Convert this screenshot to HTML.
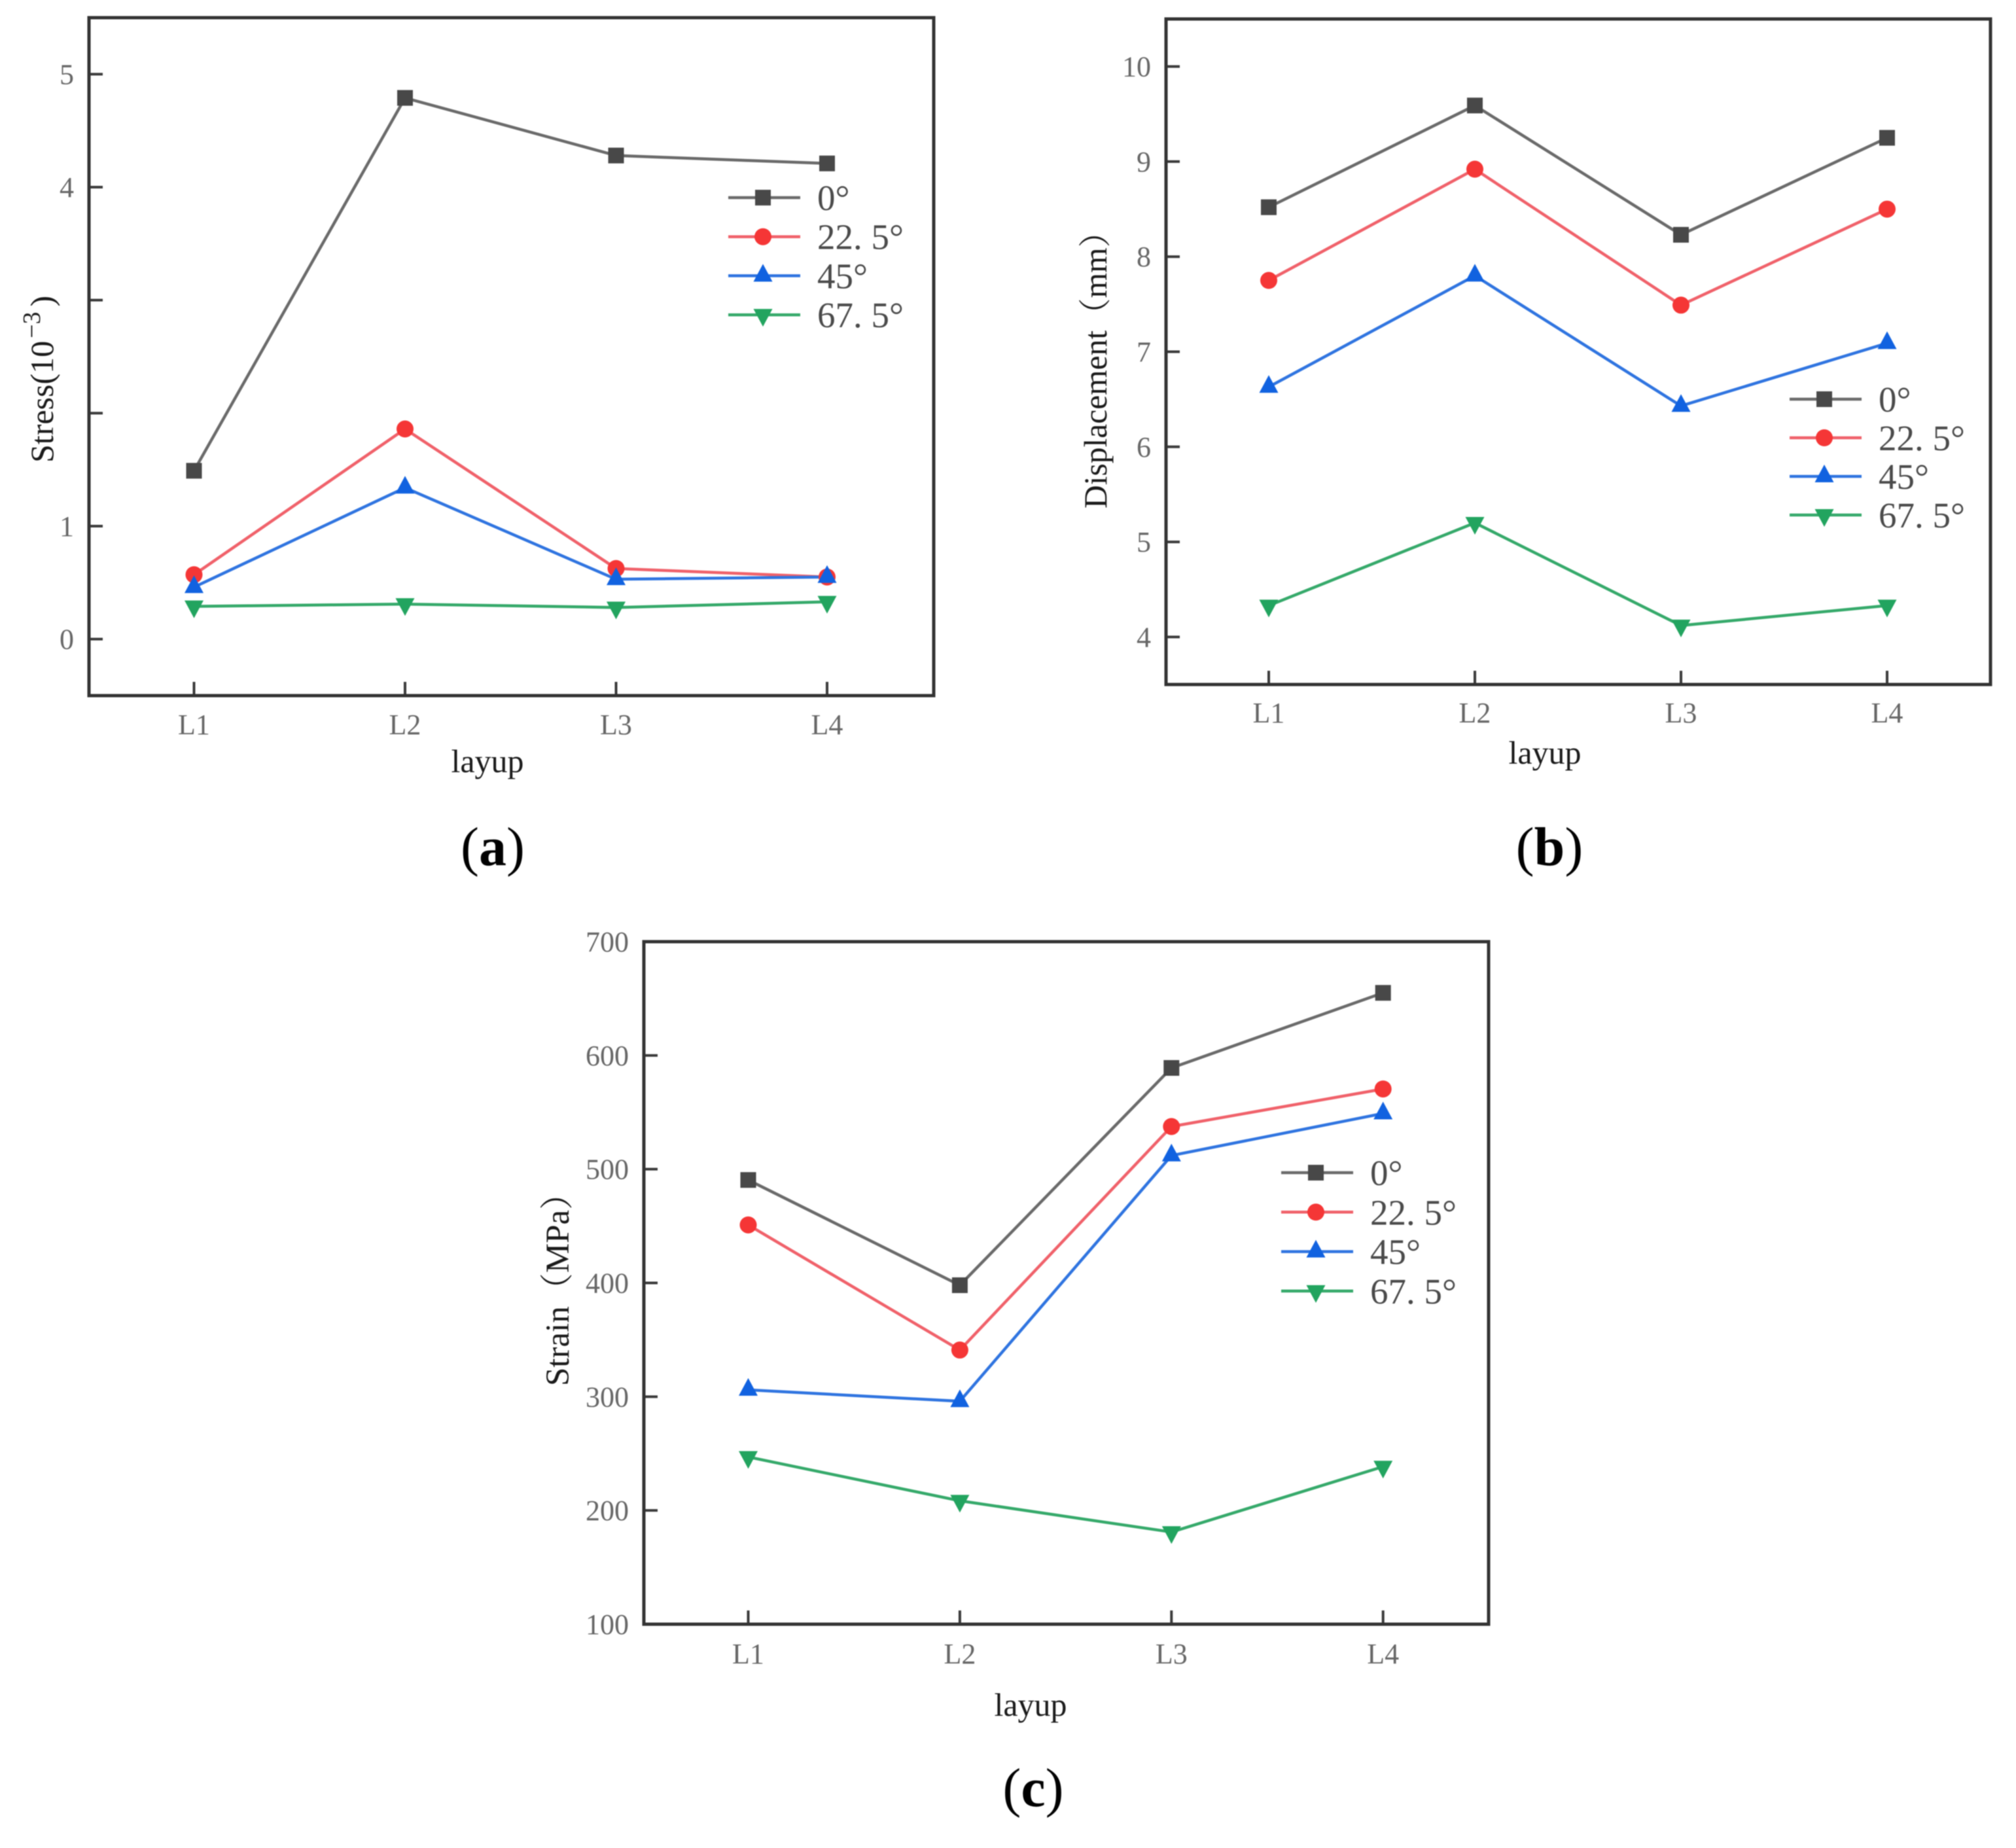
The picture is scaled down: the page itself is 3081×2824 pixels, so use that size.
<!DOCTYPE html>
<html lang="en">
<head>
<meta charset="utf-8">
<title>Stress, displacement and strain by layup</title>
<style>
  html, body { margin: 0; padding: 0; background: #fff; width: 3081px; height: 2824px; overflow: hidden; }
  svg { display: block; filter: blur(0.8px); }
  text { font-family: "Liberation Serif", "Noto Serif CJK SC", serif; }
</style>
</head>
<body>
<svg id="figure" xmlns="http://www.w3.org/2000/svg" width="3081" height="2824" viewBox="0 0 3081 2824">
  <rect width="3081" height="2824" fill="#fff"/>

  <g id="panel-a"></g>
  <g id="panel-b"></g>
  <g id="panel-c"></g>

  <text transform="translate(81,707) rotate(-90)" font-size="50" fill="#1a1a1a">Stress(10<tspan dx="4" dy="-20" font-size="38">−3</tspan><tspan dx="8" dy="20">)</tspan></text>
  <text transform="translate(1691,777) rotate(-90)" font-size="49.5" fill="#1a1a1a">Displacement（mm）</text>
  <text transform="translate(869,2118) rotate(-90)" font-size="51" fill="#1a1a1a">Strain（MPa）</text>

  <text x="745" y="1180" font-size="50" text-anchor="middle" fill="#1a1a1a">layup</text>
  <text x="2361" y="1167" font-size="50" text-anchor="middle" fill="#1a1a1a">layup</text>
  <text x="1575" y="2622" font-size="50" text-anchor="middle" fill="#1a1a1a">layup</text>

  <text x="753" y="1322" font-size="84" text-anchor="middle" fill="#000">(<tspan font-weight="bold">a</tspan>)</text>
  <text x="2368" y="1322" font-size="84" text-anchor="middle" fill="#000">(<tspan font-weight="bold">b</tspan>)</text>
  <text x="1579" y="2760" font-size="84" text-anchor="middle" fill="#000">(<tspan font-weight="bold">c</tspan>)</text>
</svg>

<script>
// ---- shared categories and legend ----
const categories = ['L1', 'L2', 'L3', 'L4'];
const seriesNames = ['0°', '22. 5°', '45°', '67. 5°'];

// ---- panel (a) stress ----
const stressTicks = [0, 1, 2, 3, 4, 5];
const stressTickLabels = ['0', '1', '', '', '4', '5'];
const stress0 = [1.49, 4.79, 4.28, 4.21];
const stress225 = [0.57, 1.86, 0.625, 0.55];
const stress45 = [0.46, 1.34, 0.53, 0.55];
const stress675 = [0.29, 0.31, 0.28, 0.33];

// ---- panel (b) displacement ----
const dispTicks = [4, 5, 6, 7, 8, 9, 10];
const dispTickLabels = ['4', '5', '6', '7', '8', '9', '10'];
const disp0 = [8.52, 9.59, 8.23, 9.25];
const disp225 = [7.75, 8.92, 7.49, 8.5];
const disp45 = [6.63, 7.8, 6.43, 7.09];
const disp675 = [4.33, 5.2, 4.12, 4.33];

// ---- panel (c) strain ----
const strainTicks = [100, 200, 300, 400, 500, 600, 700];
const strainTickLabels = ['100', '200', '300', '400', '500', '600', '700'];
const strain0 = [490.5, 398, 589, 655];
const strain225 = [451, 341, 537.5, 570.5];
const strain45 = [306, 296, 512, 549];
const strain675 = [247, 208.5, 181, 238.5];

// ---- styling ----
const NS = 'http://www.w3.org/2000/svg';
const lineColors = ['#6a6a6a', '#f0616a', '#2f74e0', '#35a96a'];
const markerColors = ['#484848', '#f53636', '#1162e0', '#22a45f'];
const markerKinds = ['square', 'circle', 'up', 'down'];

function make(tag, parent) {
  const el = document.createElementNS(NS, tag);
  parent.appendChild(el);
  return el;
}

function drawSegment(parent, name, x1, y1, x2, y2, color, width) {
  const el = make('line', parent);
  
  
  el.setAttribute('x1', x1);
  el.setAttribute('y1', y1);
  el.setAttribute('x2', x2);
  el.setAttribute('y2', y2);
  el.setAttribute('stroke', color);
  el.setAttribute('stroke-width', width);
  return el;
}

function drawLabel(parent, name, x, y, content, size, color, anchor) {
  const el = make('text', parent);
  
  
  el.setAttribute('x', x);
  el.setAttribute('y', y);
  el.setAttribute('font-size', size);
  el.setAttribute('fill', color);
  el.setAttribute('text-anchor', anchor);
  el.style.whiteSpace = 'pre';
  el.textContent = content;
  return el;
}

function drawMarker(parent, name, kind, cx, cy, color) {
  let el;
  if (kind === 'square') {
    el = make('rect', parent);
    el.setAttribute('x', cx - 12);
    el.setAttribute('y', cy - 12);
    el.setAttribute('width', 24);
    el.setAttribute('height', 24);
  } else if (kind === 'circle') {
    el = make('circle', parent);
    el.setAttribute('cx', cx);
    el.setAttribute('cy', cy);
    el.setAttribute('r', 13);
  } else if (kind === 'up') {
    el = make('polygon', parent);
    el.setAttribute('points', (cx - 14.5) + ',' + (cy + 9) + ' ' + (cx + 14.5) + ',' + (cy + 9) + ' ' + cx + ',' + (cy - 18));
  } else {
    el = make('polygon', parent);
    el.setAttribute('points', (cx - 14.5) + ',' + (cy - 9) + ' ' + (cx + 14.5) + ',' + (cy - 9) + ' ' + cx + ',' + (cy + 18));
  }
  
  
  el.setAttribute('fill', color);
  return el;
}

function drawPanel(cfg) {
  const root = document.getElementById(cfg.id);
  const yScale = function (v) {
    return cfg.bottom + (v - cfg.yMin) / (cfg.yMax - cfg.yMin) * (cfg.top - cfg.bottom);
  };
  const xScale = function (i) {
    return cfg.xFirst + i * cfg.xStep;
  };

  // y ticks + labels
  cfg.yTicks.forEach(function (tick, i) {
    const y = yScale(tick);
    drawSegment(root, 'y-tick-' + tick, cfg.left, y, cfg.left + 21, y, '#3a3a3a', 4);
    if (cfg.yLabels[i] !== '') {
      drawLabel(root, 'y-tick-label-' + tick, cfg.left - 23, y + 15, cfg.yLabels[i], 44, '#666', 'end');
    }
  });

  // x ticks + labels
  categories.forEach(function (cat, i) {
    const x = xScale(i);
    drawSegment(root, 'x-tick-' + cat, x, cfg.bottom, x, cfg.bottom - 21, '#3a3a3a', 4);
    drawLabel(root, 'x-tick-label-' + cat, x, cfg.xLabelY, cat, 44, '#666', 'middle');
  });

  // frame
  const frame = make('rect', root);
  
  
  frame.setAttribute('x', cfg.left);
  frame.setAttribute('y', cfg.top);
  frame.setAttribute('width', cfg.right - cfg.left);
  frame.setAttribute('height', cfg.bottom - cfg.top);
  frame.setAttribute('fill', 'none');
  frame.setAttribute('stroke', '#333');
  frame.setAttribute('stroke-width', 5);

  // series lines
  cfg.series.forEach(function (values, s) {
    const line = make('polyline', root);
    
    
    line.setAttribute('points', values.map(function (v, i) {
      return xScale(i) + ',' + yScale(v);
    }).join(' '));
    line.setAttribute('fill', 'none');
    line.setAttribute('stroke', lineColors[s]);
    line.setAttribute('stroke-width', 4.5);
  });

  // series markers
  cfg.series.forEach(function (values, s) {
    values.forEach(function (v, i) {
      drawMarker(root, 'series-point-' + markerKinds[s] + '-' + categories[i], markerKinds[s], xScale(i), yScale(v), markerColors[s]);
    });
  });

  // legend
  seriesNames.forEach(function (label, s) {
    const y = cfg.legendY + s * cfg.legendStep;
    drawSegment(root, 'legend-line-' + markerKinds[s], cfg.legendX, y, cfg.legendX + 110, y, lineColors[s], 4.5);
    drawMarker(root, 'legend-marker-' + markerKinds[s], markerKinds[s], cfg.legendX + 53, y, markerColors[s]);
    drawLabel(root, 'legend-label-' + markerKinds[s], cfg.legendX + 136, y + 19, label, 55, '#4a4a4a', 'start');
  });
}

drawPanel({
  id: 'panel-a', left: 136, right: 1427, top: 27, bottom: 1063,
  yMin: -0.5, yMax: 5.5, yTicks: stressTicks, yLabels: stressTickLabels,
  xFirst: 296.5, xStep: 322.5, xLabelY: 1122,
  series: [stress0, stress225, stress45, stress675],
  legendX: 1113, legendY: 302, legendStep: 59.7
});

drawPanel({
  id: 'panel-b', left: 1782, right: 3042, top: 29, bottom: 1046,
  yMin: 3.5, yMax: 10.5, yTicks: dispTicks, yLabels: dispTickLabels,
  xFirst: 1939, xStep: 315, xLabelY: 1104,
  series: [disp0, disp225, disp45, disp675],
  legendX: 2735, legendY: 610, legendStep: 59
});

drawPanel({
  id: 'panel-c', left: 984, right: 2275, top: 1439, bottom: 2482,
  yMin: 100, yMax: 700, yTicks: strainTicks, yLabels: strainTickLabels,
  xFirst: 1143.5, xStep: 323.4, xLabelY: 2542,
  series: [strain0, strain225, strain45, strain675],
  legendX: 1958, legendY: 1792, legendStep: 60.3
});
</script>
</body>
</html>
